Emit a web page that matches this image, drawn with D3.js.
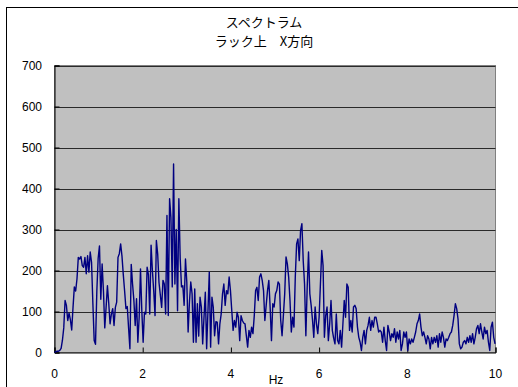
<!DOCTYPE html>
<html>
<head>
<meta charset="utf-8">
<script src="https://cdn.jsdelivr.net/npm/d3@7"></script>
<style>
  html, body { margin: 0; padding: 0; background: #fff; }
  svg { display: block; }
</style>
</head>
<body>
<svg id="chart" width="518" height="387"></svg>
<script>
// Spectrum measured on top of the rack, X direction
const titleLines = ["スペクトラム", "ラック上　X方向"];
const xAxisLabel = "Hz";
const freqStep = 0.03; // Hz between spectrum bins
const xTicks = [0, 2, 4, 6, 8, 10];
const yTicks = [0, 100, 200, 300, 400, 500, 600, 700];

// amplitude per bin, starting at 0 Hz
const amplitude = [
  0, 2, 3, 3, 5, 10, 30, 60, 127, 115, 78, 96, 80, 55, 110, 160, 150, 180, 232, 228,
  234, 212, 208, 232, 192, 236, 196, 245, 220, 120, 29, 20, 150, 230, 260, 130, 216, 150, 60, 110,
  163, 120, 70, 94, 107, 66, 110, 123, 232, 241, 265, 235, 190, 150, 107, 112, 60, 9, 215, 167,
  127, 66, 131, 25, 86, 204, 102, 25, 98, 94, 208, 190, 94, 262, 200, 150, 90, 273, 240, 170,
  140, 110, 176, 167, 94, 334, 90, 375, 330, 160, 460, 167, 300, 102, 375, 230, 160, 163, 115, 228,
  172, 50, 123, 172, 143, 25, 155, 25, 119, 40, 135, 111, 21, 86, 147, 9, 102, 196, 13, 135,
  111, 41, 75, 74, 21, 70, 94, 143, 167, 115, 151, 143, 184, 151, 102, 54, 78, 62, 98, 86,
  29, 90, 78, 72, 70, 41, 13, 54, 37, 62, 46, 90, 151, 159, 127, 184, 192, 176, 151, 78,
  115, 151, 176, 110, 29, 119, 111, 143, 151, 172, 167, 78, 41, 90, 143, 233, 216, 184, 127, 50,
  86, 62, 184, 265, 277, 224, 298, 314, 224, 167, 41, 159, 245, 143, 115, 80, 37, 111, 70, 46,
  86, 167, 249, 212, 37, 90, 111, 29, 70, 127, 54, 35, 21, 94, 29, 21, 54, 13, 70, 127,
  86, 167, 159,
  54, 78, 50, 111, 115, 107, 62, 37, 25, 5, 37, 54, 21, 54, 66, 86, 54, 78, 62, 86,
  86, 70, 50, 54, 50, 25, 62, 29, 5, 66, 50, 29, 46, 37, 58, 25, 50, 33, 54, 5,
  21, 50, 37, 50, 5, 33, 21, 33, 25, 37, 50, 70, 78, 94, 62, 41, 50, 37, 21, 41,
  33, 9, 37, 21, 37, 25, 41, 13, 46, 25, 50, 37, 13, 33, 29, 37, 46, 50, 66, 90,
  119, 107, 82, 21, 9, 13, 25, 29, 21, 37, 25, 41, 25, 46, 21, 37, 58, 66, 46, 70,
  50, 33, 62, 46, 54, 25, 5, 62, 74, 37, 21
];

const svg = d3.select("#chart");
const W = 518, H = 387;
const plot = { left: 54.5, right: 495.5, top: 65.5, bottom: 352.5 };

const x = d3.scaleLinear().domain([0, 10]).range([plot.left, plot.right]);
const y = d3.scaleLinear().domain([0, 700]).range([plot.bottom, plot.top]);

// chart area frame
svg.append("rect")
  .attr("x", 6.5).attr("y", 7.5)
  .attr("width", W).attr("height", H)
  .attr("fill", "#fff").attr("stroke", "#000").attr("stroke-width", 1);

// titles
svg.selectAll("text.title").data(titleLines).enter().append("text")
  .attr("class", "title")
  .attr("x", 264).attr("y", (d, i) => 27 + i * 19)
  .attr("text-anchor", "middle")
  .attr("font-family", "'Noto Sans CJK JP', sans-serif")
  .attr("font-size", 13)
  .attr("fill", "#000")
  .text(d => d);

// plot area
svg.append("rect")
  .attr("x", plot.left).attr("y", plot.top)
  .attr("width", plot.right - plot.left).attr("height", plot.bottom - plot.top)
  .attr("fill", "#c0c0c0").attr("stroke", "#808080").attr("stroke-width", 1);

// horizontal gridlines
svg.append("g").selectAll("line").data(yTicks.filter(v => v > 0)).enter().append("line")
  .attr("x1", plot.left).attr("x2", plot.right)
  .attr("y1", d => Math.round(y(d)) + 0.5).attr("y2", d => Math.round(y(d)) + 0.5)
  .attr("stroke", "#2a2a2a").attr("stroke-width", 1);

// y axis
const yAxis = d3.axisRight(y).tickValues(yTicks).tickSize(5).tickFormat("");
const yg = svg.append("g").attr("transform", `translate(${plot.left},0)`).call(yAxis);
yg.select(".domain").attr("stroke", "#000");
yg.selectAll(".tick line").attr("stroke", "#000");

svg.append("g").selectAll("text").data(yTicks).enter().append("text")
  .attr("x", 42).attr("y", d => y(d) + 4)
  .attr("text-anchor", "end")
  .attr("font-family", "'Liberation Sans', Arial, sans-serif")
  .attr("font-size", 12)
  .attr("fill", "#000")
  .text(d => d);

// x axis
const xAxis = d3.axisTop(x).tickValues(xTicks).tickSize(5).tickFormat("");
const xg = svg.append("g").attr("transform", `translate(0,${plot.bottom})`).call(xAxis);
xg.select(".domain").attr("stroke", "#000");
xg.selectAll(".tick line").attr("stroke", "#000");

svg.append("g").selectAll("text").data(xTicks).enter().append("text")
  .attr("x", d => x(d)).attr("y", 378)
  .attr("text-anchor", "middle")
  .attr("font-family", "'Liberation Sans', Arial, sans-serif")
  .attr("font-size", 12)
  .attr("fill", "#000")
  .text(d => d);

svg.append("text")
  .attr("x", 276).attr("y", 384)
  .attr("text-anchor", "middle")
  .attr("font-family", "'Liberation Sans', Arial, sans-serif")
  .attr("font-size", 12)
  .attr("fill", "#000")
  .text(xAxisLabel);

// spectrum trace
const line = d3.line()
  .x((d, i) => x(i * freqStep))
  .y(d => y(d));

svg.append("path")
  .datum(amplitude)
  .attr("d", line)
  .attr("fill", "none")
  .attr("stroke", "#000080")
  .attr("stroke-width", 1.4)
  .attr("stroke-linejoin", "round");
</script>
</body>
</html>
